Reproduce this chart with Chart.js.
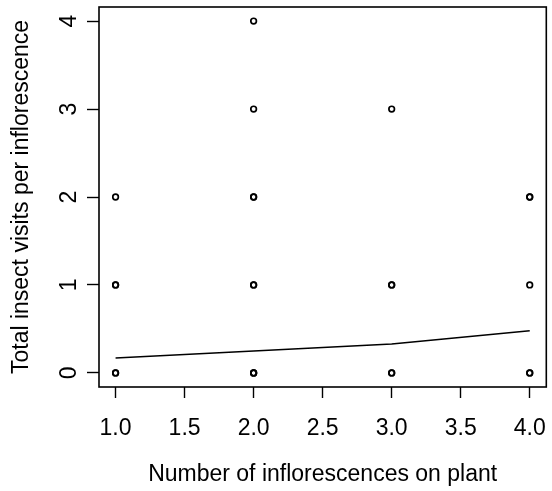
<!DOCTYPE html>
<html><head><meta charset="utf-8">
<script src="https://cdn.jsdelivr.net/npm/chart.js@4"></script>
<style>html,body{margin:0;padding:0;background:#fff;}</style>
</head><body>
<canvas id="c" width="552" height="491"></canvas>
<script>
const xTicks = [1.0, 1.5, 2.0, 2.5, 3.0, 3.5, 4.0];
const yTicks = [0, 1, 2, 3, 4];
const pointX = [1, 1, 1, 1, 1, 2, 2, 2, 2, 2, 2, 2, 2, 2, 3, 3, 3, 3, 3, 4, 4, 4, 4, 4];
const pointY = [0, 0, 1, 1, 2, 0, 0, 1, 1, 2, 2, 3, 4, 0, 0, 0, 1, 1, 3, 0, 0, 1, 2, 2];
const fitX = [1, 2, 3, 4];
const fitY = [0.17, 0.25, 0.33, 0.48];
const xTitle = 'Number of inflorescences on plant';
const yTitle = 'Total insect visits per inflorescence';

const FONT = 'Liberation Sans, Arial, Helvetica, sans-serif';
const FS = 23;

const boxPlugin = {
  id: 'box',
  afterDraw(chart) {
    const a = chart.chartArea, ctx = chart.ctx;
    ctx.save();
    ctx.strokeStyle = '#000';
    ctx.lineWidth = 1.6;
    ctx.strokeRect(a.left, a.top, a.right - a.left, a.bottom - a.top);
    ctx.restore();
  }
};

function zeroPad(s) { s.paddingTop = 0; s.paddingBottom = 0; s.paddingLeft = 0; s.paddingRight = 0; }

new Chart(document.getElementById('c'), {
  type: 'scatter',
  data: {
    datasets: [
      {
        type: 'line',
        data: fitX.map((x, i) => ({x, y: fitY[i]})),
        borderColor: '#000',
        borderWidth: 1.5,
        pointRadius: 0,
        fill: false,
        tension: 0
      },
      {
        data: pointX.map((x, i) => ({x, y: pointY[i]})),
        pointStyle: 'circle',
        pointRadius: 2.8,
        pointBorderWidth: 1.7,
        borderColor: '#000',
        backgroundColor: 'rgba(0,0,0,0)'
      }
    ]
  },
  options: {
    responsive: false,
    animation: false,
    devicePixelRatio: 1,
    layout: {padding: {top: 7, right: 5, left: 0, bottom: 0}},
    plugins: {legend: {display: false}, tooltip: {enabled: false}},
    scales: {
      x: {
        type: 'linear',
        min: 0.88, max: 4.12,
        afterBuildTicks(s) { s.ticks = xTicks.map(v => ({value: v})); },
        afterFit(s) { s.height = 104; zeroPad(s); },
        border: {display: false},
        grid: {drawOnChartArea: false, drawTicks: true, tickLength: 11, tickColor: '#000', tickWidth: 1.4},
        ticks: {color: '#000', font: {family: FONT, size: FS}, padding: 17, maxRotation: 0, minRotation: 0,
          callback: v => v.toFixed(1)},
        title: {display: true, text: xTitle, color: '#000', font: {family: FONT, size: FS}, padding: {top: 0, bottom: 3}}
      },
      y: {
        type: 'linear',
        min: -0.16, max: 4.16,
        afterBuildTicks(s) { s.ticks = yTicks.map(v => ({value: v})); },
        afterFit(s) { s.width = 99; zeroPad(s); },
        border: {display: false},
        grid: {drawOnChartArea: false, drawTicks: true, tickLength: 12, tickColor: '#000', tickWidth: 1.4},
        ticks: {color: '#000', font: {family: FONT, size: FS}, padding: 11, minRotation: 90, maxRotation: 90,
          crossAlign: 'center', callback: v => String(v)},
        title: {display: true, text: yTitle, color: '#000', font: {family: FONT, size: FS}, padding: {top: 8, bottom: 0}}
      }
    }
  },
  plugins: [boxPlugin]
});
</script>
</body></html>
